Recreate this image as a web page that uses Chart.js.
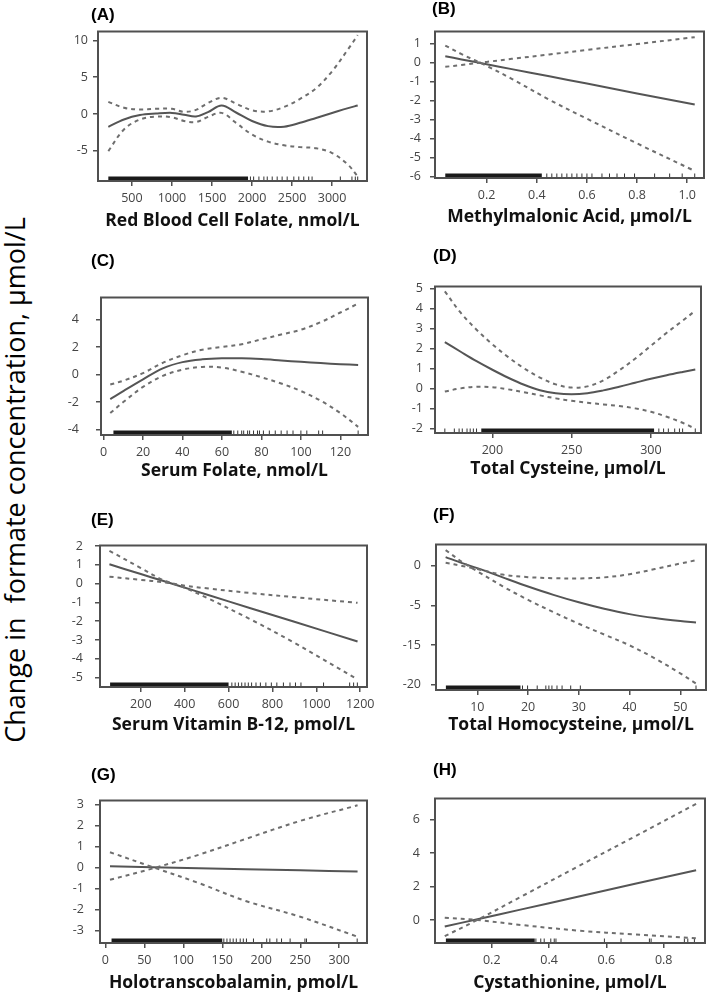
<!DOCTYPE html>
<html>
<head>
<meta charset="utf-8">
<script src="https://cdn.jsdelivr.net/npm/chart.js@4.4.0/dist/chart.umd.min.js"></script>
<style>
  body { margin: 0; width: 708px; height: 996px; background: #fff; position: relative; overflow: hidden; }
  canvas { position: absolute; }
  .tag { position: absolute; font: bold 17px "Liberation Sans", Arial, sans-serif; color: #000; transform: translateY(-50%); }
  #ytitle { position: absolute; left: 14px; top: 480px; white-space: pre; font: 27px "Open Sans", sans-serif; color: #000;
            transform: translate(-50%, -50%) rotate(-90deg); }
</style>
</head>
<body>
<div id="ytitle">Change in  formate concentration, µmol/L</div>
<script>
// ---- (A) Red blood cell folate
const rbcX   = [205, 400, 600, 800, 1000, 1150, 1300, 1450, 1620, 1800, 2000, 2200, 2400, 2600, 2800, 3000, 3200, 3320];
const rbcFit = [-1.74, -0.75, -0.15, 0.05, 0.15, -0.1, -0.35, 0.25, 1.15, 0.2, -0.95, -1.65, -1.72, -1.2, -0.54, 0.13, 0.8, 1.15];
const rbcUp  = [1.65, 0.85, 0.6, 0.7, 0.7, 0.3, 0.55, 1.5, 2.2, 1.4, 0.5, 0.35, 0.95, 2.05, 3.5, 5.8, 8.8, 10.7];
const rbcLo  = [-5.04, -2.1, -0.75, -0.35, -0.45, -0.95, -1.1, -0.4, 0.15, -1.2, -2.8, -3.75, -4.25, -4.5, -4.65, -5.3, -6.9, -8.5];
const rbcBand = [205, 1950];
const rbcRug  = [1980, 2020, 2086, 2148, 2190, 2252, 2314, 2376, 2439, 2522, 2584, 2646, 2708, 2750, 3103, 3248, 3290, 3320];
const rbcXTicks = [500, 1000, 1500, 2000, 2500, 3000];
const rbcYTicks = [-5, 0, 5, 10];

// ---- (B) Methylmalonic acid
const mmaX   = [0.035, 0.1, 0.2, 0.3, 0.45, 0.6, 0.8, 1.03];
const mmaFit = [0.34, 0.17, -0.08, -0.34, -0.72, -1.1, -1.62, -2.2];
const mmaUp  = [-0.22, -0.12, 0.04, 0.2, 0.43, 0.67, 0.98, 1.34];
const mmaLo  = [0.9, 0.45, -0.17, -0.85, -1.95, -2.95, -4.25, -5.7];
const mmaBand = [0.035, 0.42];
const mmaRug  = [0.44, 0.46, 0.48, 0.5, 0.52, 0.54, 0.56, 0.58, 0.6, 0.62, 0.66, 0.69, 0.72, 0.75, 0.79, 0.87, 0.93, 0.98, 1.03];
const mmaXTicks = [0.2, 0.4, 0.6, 0.8, 1.0];
const mmaXText  = ['0.2', '0.4', '0.6', '0.8', '1.0'];
const mmaYTicks = [-6, -5, -4, -3, -2, -1, 0, 1];

// ---- (C) Serum folate
const sfX   = [3.4, 10, 20, 30, 40, 50, 60, 70, 80, 90, 100, 110, 120, 129];
const sfFit = [-1.78, -1.2, -0.35, 0.45, 0.9, 1.1, 1.18, 1.18, 1.12, 1.02, 0.92, 0.83, 0.75, 0.69];
const sfUp  = [-0.73, -0.45, 0.1, 0.85, 1.4, 1.8, 2.0, 2.2, 2.55, 2.9, 3.25, 3.8, 4.5, 5.15];
const sfLo  = [-2.8, -2.0, -0.9, -0.1, 0.35, 0.55, 0.5, 0.2, -0.2, -0.65, -1.2, -1.9, -2.8, -3.8];
const sfBand = [5, 65];
const sfRug  = [66, 68, 70, 71, 73, 74, 76, 78, 79, 81, 84, 87, 90, 93, 96, 100, 103, 109, 111, 129];
const sfXTicks = [0, 20, 40, 60, 80, 100, 120];
const sfYTicks = [-4, -2, 0, 2, 4];

// ---- (D) Total cysteine
const cysX   = [170, 180, 190, 200, 210, 220, 230, 240, 250, 260, 270, 280, 290, 300, 310, 320, 328];
const cysFit = [2.33, 1.85, 1.38, 0.95, 0.55, 0.2, -0.07, -0.22, -0.27, -0.22, -0.08, 0.1, 0.3, 0.5, 0.68, 0.84, 0.96];
const cysUp  = [4.87, 3.8, 2.95, 2.22, 1.58, 1.02, 0.56, 0.22, 0.06, 0.12, 0.42, 0.92, 1.5, 2.15, 2.8, 3.4, 3.9];
const cysLo  = [-0.14, 0.02, 0.1, 0.08, -0.03, -0.17, -0.33, -0.48, -0.6, -0.7, -0.78, -0.86, -0.98, -1.15, -1.4, -1.7, -2.0];
const cysBand = [193, 302];
const cysRug  = [170, 176, 179, 181, 184, 186, 188, 190, 305, 308, 311, 315, 318, 320, 328];
const cysXTicks = [200, 250, 300];
const cysYTicks = [-2, -1, 0, 1, 2, 3, 4, 5];

// ---- (E) Serum vitamin B-12
const b12X   = [57, 200, 300, 380, 500, 700, 900, 1188];
const b12Fit = [1.03, 0.51, 0.15, -0.14, -0.58, -1.31, -2.03, -3.08];
const b12Up  = [0.37, 0.2, 0.08, -0.07, -0.25, -0.5, -0.72, -1.02];
const b12Lo  = [1.75, 0.83, 0.2, -0.12, -0.75, -1.9, -3.15, -5.1];
const b12Band = [60, 600];
const b12Rug  = [615, 630, 645, 660, 675, 690, 705, 725, 745, 770, 795, 820, 850, 880, 905, 930, 1033, 1152, 1170, 1187];
const b12XTicks = [200, 400, 600, 800, 1000, 1200];
const b12YTicks = [-5, -4, -3, -2, -1, 0, 1, 2];

// ---- (F) Total homocysteine (axis labels as printed: 0, -5, -15, -20)
const hcyX   = [3.75, 7, 10, 15, 20, 25, 30, 35, 40, 45, 50, 53.1];
const hcyFit = [1.12, 0.35, -0.28, -1.45, -2.6, -3.66, -4.6, -5.42, -6.1, -6.6, -6.98, -7.16];
const hcyUp  = [0.4, 0.0, -0.4, -1.1, -1.42, -1.55, -1.58, -1.45, -1.05, -0.4, 0.3, 0.72];
const hcyLo  = [2.0, 0.5, -0.68, -2.58, -4.3, -5.85, -7.32, -8.68, -10.05, -11.7, -13.6, -14.88];
const hcyBand = [3.8, 18.5];
const hcyRug  = [18.9, 19.9, 21.8, 23.5, 24.1, 24.7, 25.7, 26.7, 28.4, 30.3, 53.1];
const hcyXTicks = [10, 20, 30, 40, 50];
const hcyYTicks = [-15, -10, -5, 0];
const hcyYText  = ['-20', '-15', '-5', '0'];

// ---- (G) Holotranscobalamin
const holoX   = [6, 60, 120, 180, 250, 323.5];
const holoFit = [0.05, 0.01, -0.04, -0.09, -0.14, -0.2];
const holoUp  = [-0.59, -0.06, 0.6, 1.35, 2.21, 2.95];
const holoLo  = [0.72, 0.02, -0.75, -1.6, -2.35, -3.3];
const holoBand = [8, 150];
const holoRug  = [152, 156, 160, 164, 168, 173, 177, 181, 190, 207, 211, 220, 226, 237, 256, 258, 323];
const holoXTicks = [0, 50, 100, 150, 200, 250, 300];
const holoYTicks = [-3, -2, -1, 0, 1, 2, 3];

// ---- (H) Cystathionine
const ctX   = [0.036, 0.15, 0.3, 0.5, 0.7, 0.913];
const ctFit = [-0.38, 0.06, 0.63, 1.4, 2.17, 2.98];
const ctUp  = [-0.95, 0.02, 1.38, 3.2, 5.0, 6.94];
const ctLo  = [0.15, 0.01, -0.28, -0.62, -0.85, -1.08];
const ctBand = [0.04, 0.35];
const ctRug  = [0.354, 0.371, 0.383, 0.406, 0.418, 0.424, 0.593, 0.651, 0.75, 0.756, 0.872, 0.884, 0.907];
const ctXTicks = [0.2, 0.4, 0.6, 0.8];
const ctYTicks = [0, 2, 4, 6];

const FIT_COLOR = '#555';
const CI_COLOR = '#6e6e6e';
const FRAME_COLOR = '#505050';
const TICK_COLOR = '#444';
const Y_AXIS_W = 50;
const PAD_TOP = 10;
const PAD_RIGHT = 14;

Chart.defaults.font.family = "'Open Sans', sans-serif";

// plot-region box, R style
const frameBox = {
  id: 'frameBox',
  afterDatasetsDraw(chart) {
    const { ctx, chartArea: a } = chart;
    ctx.save();
    ctx.strokeStyle = FRAME_COLOR;
    ctx.lineWidth = 2;
    ctx.strokeRect(a.left, a.top, a.right - a.left, a.bottom - a.top);
    ctx.restore();
  },
};

const panels = [
  { tag: '(A)', tagX: 91, tagY: 15, box: [98, 29, 367, 181], titleY: 222, yPad: 5,
    title: 'Red Blood Cell Folate, nmol/L', xr: [76, 3436], yr: [-9.1, 11.2],
    x: rbcX, fit: rbcFit, up: rbcUp, lo: rbcLo, band: rbcBand, rug: rbcRug,
    xTicks: rbcXTicks, yTicks: rbcYTicks },
  { tag: '(B)', tagX: 432, tagY: 9, box: [435, 25, 704, 178], titleY: 218, yPad: 9,
    title: 'Methylmalonic Acid, µmol/L', xr: [-0.006, 1.067], yr: [-6.07, 1.64],
    x: mmaX, fit: mmaFit, up: mmaUp, lo: mmaLo, band: mmaBand, rug: mmaRug,
    xTicks: mmaXTicks, xText: mmaXText, yTicks: mmaYTicks },
  { tag: '(C)', tagX: 91, tagY: 261, box: [101, 283, 368, 435], titleY: 472, yPad: 17,
    title: 'Serum Folate, nmol/L', xr: [-1.3, 134], yr: [-4.39, 5.59],
    x: sfX, fit: sfFit, up: sfUp, lo: sfLo, band: sfBand, rug: sfRug,
    xTicks: sfXTicks, yTicks: sfYTicks },
  { tag: '(D)', tagX: 433, tagY: 256, box: [435, 282, 701, 433], titleY: 470, yPad: 7,
    title: 'Total Cysteine, µmol/L', xr: [163.8, 331.6], yr: [-2.21, 5.11],
    x: cysX, fit: cysFit, up: cysUp, lo: cysLo, band: cysBand, rug: cysRug,
    xTicks: cysXTicks, yTicks: cysYTicks },
  { tag: '(E)', tagX: 91, tagY: 520, box: [100, 536, 367, 687], titleY: 726, yPad: 12,
    title: 'Serum Vitamin B-12, pmol/L', xr: [14, 1231], yr: [-5.5, 2.03],
    x: b12X, fit: b12Fit, up: b12Up, lo: b12Lo, band: b12Band, rug: b12Rug,
    xTicks: b12XTicks, yTicks: b12YTicks },
  { tag: '(F)', tagX: 433, tagY: 515, box: [436, 537, 706, 690], titleY: 726, yPad: 10,
    title: 'Total Homocysteine, µmol/L', xr: [1.85, 55.07], yr: [-15.7, 2.71],
    x: hcyX, fit: hcyFit, up: hcyUp, lo: hcyLo, band: hcyBand, rug: hcyRug,
    xTicks: hcyXTicks, yTicks: hcyYTicks, yText: hcyYText },
  { tag: '(G)', tagX: 91, tagY: 775, box: [100, 792, 367, 943], titleY: 984, yPad: 11,
    title: 'Holotranscobalamin, pmol/L', xr: [-6.8, 335.6], yr: [-3.6, 3.18],
    x: holoX, fit: holoFit, up: holoUp, lo: holoLo, band: holoBand, rug: holoRug,
    xTicks: holoXTicks, yTicks: holoYTicks },
  { tag: '(H)', tagX: 433, tagY: 770, box: [435, 791, 705, 943], titleY: 984, yPad: 10,
    title: 'Cystathionine, µmol/L', xr: [0.002, 0.944], yr: [-1.36, 7.26],
    x: ctX, fit: ctFit, up: ctUp, lo: ctLo, band: ctBand, rug: ctRug,
    xTicks: ctXTicks, yTicks: ctYTicks },
];

function buildPanel(p) {
  const [l, t, r, b] = p.box;
  const xAxisH = p.titleY - b + 10;
  const canvas = document.createElement('canvas');
  canvas.width = r - l + Y_AXIS_W + PAD_RIGHT;
  canvas.height = PAD_TOP + (b - t) + xAxisH;
  canvas.style.left = (l - Y_AXIS_W) + 'px';
  canvas.style.top = (t - PAD_TOP) + 'px';
  document.body.appendChild(canvas);

  const tag = document.createElement('div');
  tag.className = 'tag';
  tag.textContent = p.tag;
  tag.style.left = p.tagX + 'px';
  tag.style.top = p.tagY + 'px';
  document.body.appendChild(tag);

  const pts = (ys) => p.x.map((x, i) => ({ x, y: ys[i] }));
  const yBase = p.yr[0];
  const ciLine = { borderColor: CI_COLOR, borderWidth: 2, borderDash: [4, 4], pointRadius: 0, tension: 0.35 };
  const axisGrid = { display: true, drawOnChartArea: false, drawTicks: true, tickLength: 5, color: FRAME_COLOR, lineWidth: 1.5 };

  new Chart(canvas, {
    type: 'line',
    data: {
      datasets: [
        { ...ciLine, data: pts(p.up) },
        { ...ciLine, data: pts(p.lo) },
        { data: pts(p.fit), borderColor: FIT_COLOR, borderWidth: 2, pointRadius: 0, tension: 0.35 },
        // rug: dense stretch as a thick stroke, sparse values as single ticks
        { data: p.band.map((x) => ({ x, y: yBase })), borderColor: '#1a1a1a', borderWidth: 9, pointRadius: 0, clip: 0 },
        { data: p.rug.map((x) => ({ x, y: yBase })), showLine: false, pointStyle: 'line', pointRotation: 90,
          pointRadius: 4.5, pointBorderColor: '#333', pointBorderWidth: 1, clip: 0 },
      ],
    },
    options: {
      responsive: false,
      animation: false,
      events: [],
      layout: { padding: { top: PAD_TOP, right: PAD_RIGHT, left: 0, bottom: 0 } },
      plugins: { legend: { display: false }, tooltip: { enabled: false } },
      scales: {
        x: {
          type: 'linear', min: p.xr[0], max: p.xr[1],
          afterBuildTicks: (s) => { s.ticks = p.xTicks.map((v) => ({ value: v })); },
          afterFit: (s) => { s.height = xAxisH; },
          grid: axisGrid,
          border: { display: false },
          ticks: { autoSkip: false, maxRotation: 0, padding: 5, color: TICK_COLOR, font: { size: 12.5 },
                   callback: (v, i) => (p.xText ? p.xText[i] : String(p.xTicks[i])) },
          title: { display: true, text: p.title, color: '#111', padding: 0, font: { size: 17.5, weight: 'bold' } },
        },
        y: {
          type: 'linear', min: p.yr[0], max: p.yr[1],
          afterBuildTicks: (s) => { s.ticks = p.yTicks.map((v) => ({ value: v })); },
          afterFit: (s) => { s.width = Y_AXIS_W; },
          grid: axisGrid,
          border: { display: false },
          ticks: { autoSkip: false, padding: p.yPad, color: TICK_COLOR, font: { size: 12.5 },
                   callback: (v, i) => (p.yText ? p.yText[i] : String(p.yTicks[i])) },
        },
      },
    },
    plugins: [frameBox],
  });
}

panels.forEach(buildPanel);
</script>
</body>
</html>
